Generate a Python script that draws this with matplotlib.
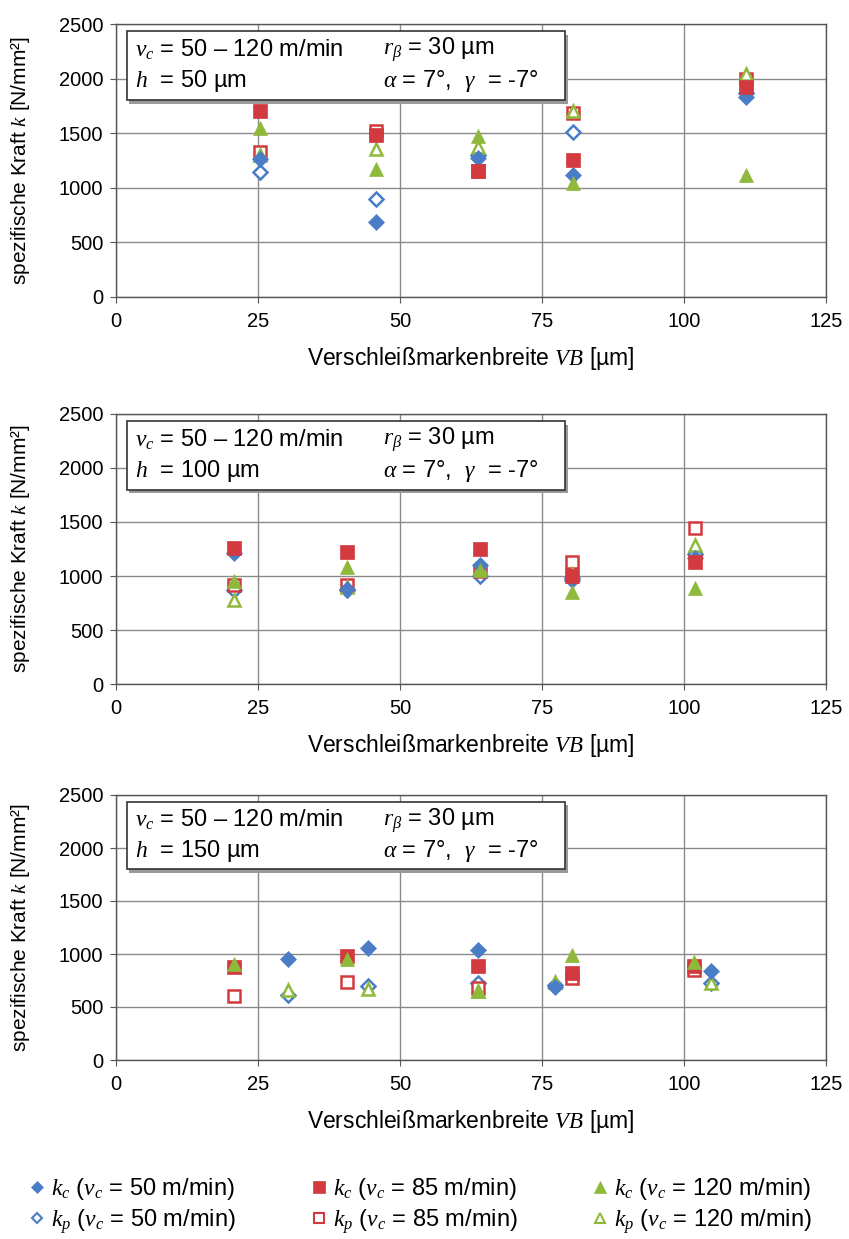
import matplotlib
matplotlib.use("Agg")
import matplotlib.pyplot as plt
from matplotlib.patches import Rectangle
from matplotlib.lines import Line2D

plt.rcParams['font.family'] = ['Liberation Sans', 'DejaVu Sans']
plt.rcParams['mathtext.fontset'] = 'custom'
plt.rcParams['mathtext.it'] = 'Liberation Serif:italic'
plt.rcParams['mathtext.rm'] = 'Liberation Sans'

# wear mark width VB [um] and specific forces [N/mm2], per panel (h = 50, 100, 150 um)
h_values = [50, 100, 150]

vb_h50 = [25.3, 45.8, 63.7, 80.5, 111.0]
kc50_h50 = [1260, 690, 1275, 1115, 1830]
kc85_h50 = [1700, 1480, 1155, 1255, 1920]
kc120_h50 = [1545, 1170, 1475, 1045, 1120]
kp50_h50 = [1145, 900, 1300, 1510, 1870]
kp85_h50 = [1330, 1520, 1150, 1685, 2000]
kp120_h50 = [1300, 1355, 1370, 1700, 2040]

vb_h100 = [20.8, 40.7, 64.0, 80.3, 102.0]
kc50_h100 = [1215, 880, 1100, 960, 1170]
kc85_h100 = [1260, 1220, 1250, 1000, 1130]
kc120_h100 = [950, 1085, 1060, 850, 890]
kp50_h100 = [870, 870, 1000, 980, 1200]
kp85_h100 = [920, 915, 1050, 1130, 1440]
kp120_h100 = [780, 900, 1070, 1020, 1285]

vb50_h150 = [30.3, 44.3, 63.7, 77.3, 104.8]
vb85_h150 = [20.8, 40.7, 63.7, 80.3, 101.7]
kc50_h150 = [955, 1060, 1035, 690, 840]
kp50_h150 = [610, 700, 730, 710, 730]
kc85_h150 = [880, 985, 890, 820, 890]
kp85_h150 = [600, 740, 680, 770, 850]
kc120_h150 = [910, 950, 650, 990, 920]
kp120_h150 = [660, 670, 650, 740, 730]

panels = [
    {'h': 50, 'series': [(vb_h50, kc50_h50), (vb_h50, kc85_h50), (vb_h50, kc120_h50),
                         (vb_h50, kp50_h50), (vb_h50, kp85_h50), (vb_h50, kp120_h50)]},
    {'h': 100, 'series': [(vb_h100, kc50_h100), (vb_h100, kc85_h100), (vb_h100, kc120_h100),
                          (vb_h100, kp50_h100), (vb_h100, kp85_h100), (vb_h100, kp120_h100)]},
    {'h': 150, 'series': [(vb50_h150, kc50_h150), (vb85_h150, kc85_h150), (vb85_h150, kc120_h150),
                          (vb50_h150, kp50_h150), (vb85_h150, kp85_h150), (vb50_h150, kp120_h150)]},
]

blue = '#4a7dc6'
red = '#d33a3f'
green = '#8fb93b'
colors = [blue, red, green, blue, red, green]
markers = ['D', 's', '^', 'D', 's', '^']
sizes = [8, 10, 10, 8, 10, 10]
filled = [True, True, True, False, False, False]
labels = [r'$k_c$ ($v_c$ = 50 m/min)', r'$k_c$ ($v_c$ = 85 m/min)', r'$k_c$ ($v_c$ = 120 m/min)',
          r'$k_p$ ($v_c$ = 50 m/min)', r'$k_p$ ($v_c$ = 85 m/min)', r'$k_p$ ($v_c$ = 120 m/min)']

fig = plt.figure(figsize=(8.49, 12.39), dpi=100)

# axes boxes in pixels: (top, bottom)
boxes = [(24, 297), (414, 684), (795, 1060)]
W, H = 849, 1239
left, right = 116, 826

fs_tick = 14.5
fs_xlab = 16.5
fs_ylab = 15
fs_box = 17
fs_leg = 17
for p, (top, bot) in zip(panels, boxes):
    ax = fig.add_axes([left / W, (H - bot) / H, (right - left) / W, (bot - top) / H])
    ax.set_xlim(0, 125)
    ax.set_ylim(0, 2500)
    ax.set_xticks([0, 25, 50, 75, 100, 125])
    ax.set_yticks([0, 500, 1000, 1500, 2000, 2500])
    ax.grid(True, color='#8a8a8a', lw=1.0)
    ax.set_axisbelow(True)
    for s in ax.spines.values():
        s.set_color('#555555')
        s.set_linewidth(1.0)
    ax.tick_params(labelsize=fs_tick, length=4, color='#555555')
    ax.tick_params(axis='x', pad=7)
    ax.tick_params(axis='y', pad=5)

    # draw open markers first, filled on top
    order = [3, 4, 5, 0, 1, 2]
    for i in order:
        x, y = p['series'][i]
        if filled[i]:
            ax.plot(x, y, ls='none', marker=markers[i], ms=sizes[i], mfc=colors[i],
                    mec=colors[i], mew=0.5, zorder=4)
        else:
            ax.plot(x, y, ls='none', marker=markers[i], ms=sizes[i] - 1, mfc='white',
                    mec=colors[i], mew=1.8, zorder=3)

    ax.set_xlabel(r'Verschleißmarkenbreite $VB$ [µm]', fontsize=fs_xlab, labelpad=10)
    ax.set_ylabel(r'spezifische Kraft $k$ [N/mm²]', fontsize=fs_ylab)
    ax.yaxis.set_label_coords(-0.118, 0.5)

    # parameter box with shadow
    x0, x1 = 0.015, 0.633
    y0, y1 = 0.72, 0.975
    ax.add_patch(Rectangle((x0 + 0.004, y0 - 0.014), x1 - x0, y1 - y0, transform=ax.transAxes,
                           facecolor='#9a9a9a', edgecolor='none', zorder=5, clip_on=False))
    ax.add_patch(Rectangle((x0, y0), x1 - x0, y1 - y0, transform=ax.transAxes,
                           facecolor='white', edgecolor='#333333', lw=1.2, zorder=6, clip_on=False))
    ax.text(0.027, 0.905, r'$v_c$ = 50 – 120 m/min', transform=ax.transAxes, fontsize=fs_box,
            va='center', zorder=7)
    ax.text(0.376, 0.905, r'$r_\beta$ = 30 µm', transform=ax.transAxes, fontsize=fs_box,
            va='center', zorder=7)
    ax.text(0.027, 0.79, r'$h$  = %d µm' % p['h'], transform=ax.transAxes, fontsize=fs_box,
            va='center', zorder=7)
    ax.text(0.376, 0.79, r'$\alpha$ = 7°,  $\gamma$  = -7°', transform=ax.transAxes, fontsize=fs_box,
            va='center', zorder=7)

handles = []
for i in [0, 3, 1, 4, 2, 5]:
    if filled[i]:
        h = Line2D([], [], ls='none', marker=markers[i], ms=sizes[i] - 2, mfc=colors[i],
                   mec=colors[i], mew=0.5)
    else:
        h = Line2D([], [], ls='none', marker=markers[i], ms=sizes[i] - 3, mfc='white',
                   mec=colors[i], mew=1.5)
    handles.append(h)
leg_labels = [labels[i] for i in [0, 3, 1, 4, 2, 5]]
fig.legend(handles, leg_labels, ncol=3, frameon=False, fontsize=fs_leg,
           loc='center', bbox_to_anchor=(0.496, (H - 1206) / H),
           handlelength=0.6, handletextpad=0.3, columnspacing=3.2, labelspacing=0.2)

fig.savefig('out.png', dpi=100)
